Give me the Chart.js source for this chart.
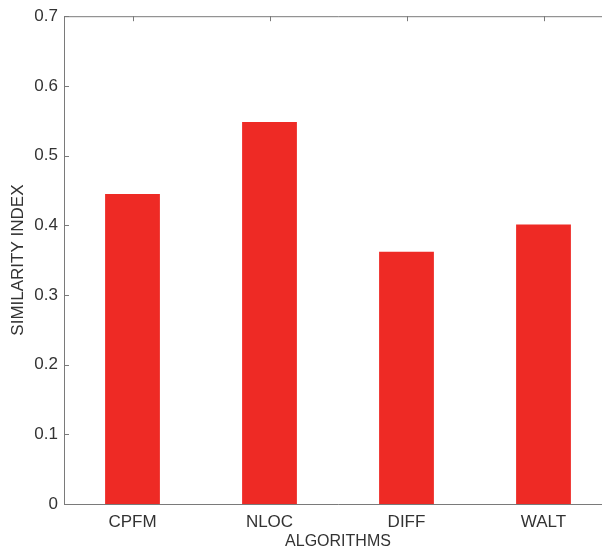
<!DOCTYPE html>
<html>
<head>
<meta charset="utf-8">
<script src="https://cdn.jsdelivr.net/npm/chart.js@4.4.0/dist/chart.umd.min.js"></script>
<style>
  html, body { margin: 0; padding: 0; background: #fff; overflow: hidden; width: 602px; height: 552px; }
  #wrap { position: absolute; left: 0; top: 0; width: 612px; height: 552px; }
</style>
</head>
<body>
<div id="wrap"><canvas id="chart" width="612" height="552"></canvas></div>
<script>
// data
const algorithms = ['CPFM', 'NLOC', 'DIFF', 'WALT'];
const similarity = [0.445, 0.548, 0.362, 0.401];
const yTicks = [0, 0.1, 0.2, 0.3, 0.4, 0.5, 0.6, 0.7];

const axisColor = '#7a7a7a';
const textColor = '#333333';
const barColor = '#ee2a25';

// matlab style box with inward ticks, drawn on top of the bars
const frame = {
    id: 'frame',
    afterDatasetsDraw(chart) {
        const { ctx, chartArea: a, scales } = chart;
        ctx.save();
        ctx.strokeStyle = axisColor;
        ctx.lineWidth = 1;
        ctx.beginPath();
        ctx.moveTo(a.left + 0.5, a.top + 0.5);
        ctx.lineTo(a.left + 0.5, a.bottom + 0.5);
        ctx.lineTo(a.right, a.bottom + 0.5);
        ctx.moveTo(a.left + 0.5, a.top + 0.5);
        ctx.lineTo(a.right, a.top + 0.5);
        yTicks.forEach((v) => {
            const y = Math.round(scales.y.getPixelForValue(v)) + 0.5;
            ctx.moveTo(a.left, y);
            ctx.lineTo(a.left + 5, y);
        });
        algorithms.forEach((c, i) => {
            const x = Math.round(scales.x.getPixelForValue(i)) + 0.5;
            ctx.moveTo(x, a.top);
            ctx.lineTo(x, a.top + 5);
        });
        ctx.stroke();
        ctx.restore();
    }
};

new Chart(document.getElementById('chart'), {
    type: 'bar',
    data: {
        labels: algorithms,
        datasets: [{
            data: similarity,
            backgroundColor: barColor,
            borderWidth: 0,
            barPercentage: 0.4,
            categoryPercentage: 1
        }]
    },
    options: {
        responsive: false,
        animation: false,
        layout: { padding: { top: 16, right: 0, left: 0, bottom: 0 } },
        plugins: { legend: { display: false }, tooltip: { enabled: false } },
        scales: {
            x: {
                grid: { display: false, drawTicks: false },
                border: { display: false },
                ticks: {
                    color: textColor,
                    padding: 8,
                    font: { family: 'Liberation Sans, Arial, sans-serif', size: 17 }
                },
                title: {
                    display: true,
                    text: 'ALGORITHMS',
                    color: textColor,
                    padding: { top: 0, bottom: 1 },
                    font: { family: 'Liberation Sans, Arial, sans-serif', size: 16 }
                },
                afterFit: (s) => { s.height = 48; }
            },
            y: {
                min: 0,
                max: 0.7,
                grid: { display: false, drawTicks: false },
                border: { display: false },
                afterBuildTicks: (s) => { s.ticks = yTicks.map((v) => ({ value: v })); },
                ticks: {
                    color: textColor,
                    padding: 6,
                    font: { family: 'Liberation Sans, Arial, sans-serif', size: 17 },
                    callback: (v) => String(Math.round(v * 10) / 10)
                },
                title: {
                    display: true,
                    text: 'SIMILARITY INDEX',
                    color: textColor,
                    padding: { top: 8, bottom: 0 },
                    font: { family: 'Liberation Sans, Arial, sans-serif', size: 17 }
                },
                afterFit: (s) => { s.width = 64; }
            }
        }
    },
    plugins: [frame]
});
</script>
</body>
</html>
